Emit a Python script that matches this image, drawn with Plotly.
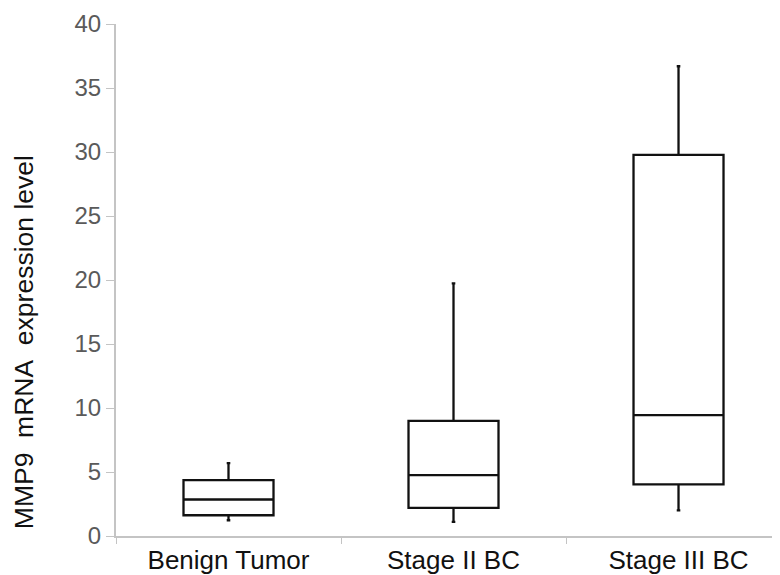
import plotly.graph_objects as go

categories = ["Benign Tumor", "Stage II BC", "Stage III BC"]
lower_whisker = [1.23, 1.1, 2.0]
q1_values = [1.62, 2.19, 4.04]
median_values = [2.85, 4.75, 9.44]
q3_values = [4.36, 8.99, 29.77]
upper_whisker = [5.7, 19.73, 36.7]
y_ticks = [0, 5, 10, 15, 20, 25, 30, 35, 40]
y_title = "MMP9\u00a0 mRNA\u00a0 expression level"

fig = go.Figure()
fig.add_trace(go.Box(
    x=categories,
    q1=q1_values,
    median=median_values,
    q3=q3_values,
    lowerfence=lower_whisker,
    upperfence=upper_whisker,
    boxpoints=False,
    width=0.4,
    whiskerwidth=0.04,
    fillcolor="white",
    line=dict(color="#111111", width=2.3),
    showlegend=False,
    hoverinfo="skip",
))

font_family = "Liberation Sans, Arial, sans-serif"
fig.add_annotation(
    text=y_title, textangle=-90,
    xref="paper", yref="paper",
    x=-0.1375, y=0.378, xanchor="center", yanchor="middle",
    showarrow=False,
    font=dict(size=26.5, color="#111111", family=font_family),
)
fig.update_layout(
    width=772, height=567,
    margin=dict(l=108, r=0, t=16, b=39),
    paper_bgcolor="white", plot_bgcolor="white",
    font=dict(family=font_family),
    xaxis=dict(
        type="category",
        range=[-0.5, 2.451],
        showline=True, linecolor="#c4c4c4", linewidth=2,
        ticks="outside", tickson="boundaries", ticklen=6, tickcolor="#c4c4c4",
        showgrid=False, zeroline=False,
        tickfont=dict(size=26, color="#111111"),
        automargin=False,
    ),
    yaxis=dict(
        range=[0, 40],
        tickvals=y_ticks,
        showline=True, linecolor="#c4c4c4", linewidth=2,
        ticks="outside", ticklen=8, tickcolor="#c4c4c4",
        showgrid=False, zeroline=False,
        tickfont=dict(size=24, color="#5a5a5a"),
        automargin=False,
    ),
)

fig.write_html("out.html")
